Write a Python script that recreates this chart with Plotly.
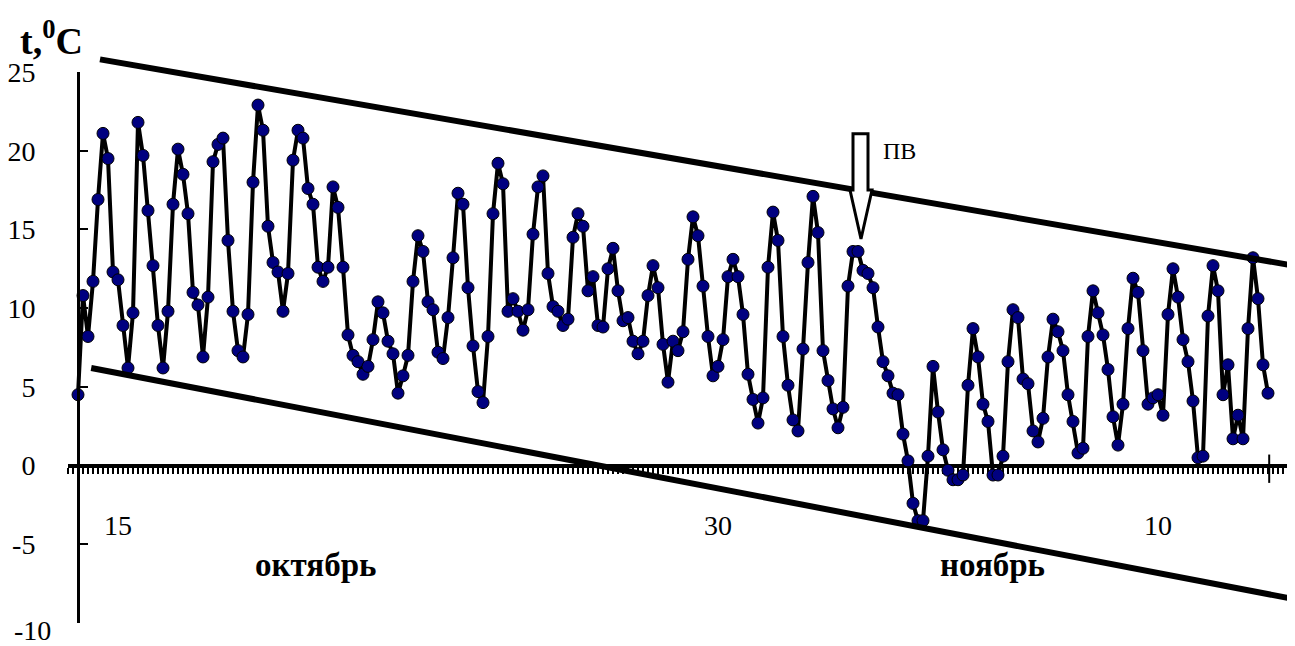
import plotly.graph_objects as go

# ---- data (3-hourly air temperature, °C) ----
start_day = 14.0          # October 14 = day 14, November 1 = day 32
step_day = 1.0 / 8.0      # 8 observations per day

temps_oct = [
    4.5, 10.8, 8.2, 11.7, 16.9, 21.1, 19.5, 12.3, 11.8, 8.9, 6.2, 9.7,
    21.8, 19.7, 16.2, 12.7, 8.9, 6.2, 9.8, 16.6, 20.1, 18.5, 16.0, 11.0,
    10.2, 6.9, 10.7, 19.3, 20.4, 20.8, 14.3, 9.8, 7.3, 6.9, 9.6, 18.0,
    22.9, 21.3, 15.2, 12.9, 12.3, 9.8, 12.2, 19.4, 21.3, 20.8, 17.6, 16.6,
    12.6, 11.7, 12.6, 17.7, 16.4, 12.6, 8.3, 7.0, 6.6, 5.8, 6.3, 8.0,
    10.4, 9.7, 7.9, 7.1, 4.6, 5.7, 7.0, 11.7, 14.6, 13.6, 10.4, 9.9,
    7.2, 6.8, 9.4, 13.2, 17.3, 16.6, 11.3, 7.6, 4.7, 4.0, 8.2, 16.0,
    19.2, 17.9, 9.8, 10.6, 9.8, 8.6, 9.9, 14.7, 17.7, 18.4, 12.2, 10.1,
    9.8, 8.9, 9.3, 14.5, 16.0, 15.2, 11.1, 12.0, 8.9, 8.8, 12.5, 13.8,
    11.1, 9.2, 9.4, 7.9, 7.1, 7.9, 10.8, 12.7, 11.3, 7.7, 5.3, 7.9,
    7.3, 8.5, 13.1, 15.8, 14.6, 11.4, 8.2, 5.7, 6.3, 8.0, 12.0, 13.1,
    12.0, 9.6, 5.8, 4.2, 2.7, 4.3, 12.6, 16.1, 14.3, 8.2, 5.1, 2.9,
]
temps_nov = [
    2.2, 7.4, 12.9, 17.1, 14.8, 7.3, 5.4, 3.6, 2.4, 3.7, 11.4, 13.6,
    13.6, 12.4, 12.2, 11.3, 8.8, 6.6, 5.7, 4.6, 4.5, 2.0, 0.3, -2.4,
    -3.5, -3.5, 0.6, 6.3, 3.4, 1.0, -0.3, -0.9, -0.9, -0.6, 5.1, 8.7,
    6.9, 3.9, 2.8, -0.6, -0.6, 0.6, 6.6, 9.9, 9.4, 5.5, 5.2, 2.2,
    1.5, 3.0, 6.9, 9.3, 8.5, 7.3, 4.5, 2.8, 0.8, 1.1, 8.2, 11.1,
    9.7, 8.3, 6.1, 3.1, 1.3, 3.9, 8.7, 11.9, 11.0, 7.3, 3.9, 4.3,
    4.5, 3.2, 9.6, 12.5, 10.7, 8.0, 6.6, 4.1, 0.5, 0.6, 9.5, 12.7,
    11.1, 4.5, 6.4, 1.7, 3.2, 1.7, 8.7, 13.2, 10.6, 6.4, 4.6,
]

# envelope (trend) lines: [start, end]
upper_days = [14.55, 44.3]
upper_vals = [25.8, 12.74]
lower_days = [14.33, 44.25]
lower_vals = [6.2, -8.41]

# axis ticks
x_tick_days = [15, 30, 41]
x_tick_text = ["15", "30", "10"]
y_tick_vals = [-10, -5, 0, 5, 10, 15, 20, 25]
y_tick_text = ["-10", "-5", "0", "5", "10", "15", "20", "25"]

month_names = ["октябрь", "ноябрь"]
month_days = [19.93, 36.85]

temps = temps_oct + temps_nov
days = [start_day + i * step_day for i in range(len(temps))]

SERIF = "Liberation Serif, Times New Roman, serif"

X_RANGE = [13.75, 44.3]
Y_RANGE = [-10, 25]
# the main axes occupy the lower part of a taller drawing area; a hidden
# twin y-axis with the same scale lets the upper envelope line run above 25
FIG_W, FIG_H = 1287, 638
M_L, M_R, M_T, M_B = 60, 5, 48, 23
plot_h = FIG_H - M_T - M_B
dom_top = 551.0 / plot_h
y2_top = Y_RANGE[0] + (Y_RANGE[1] - Y_RANGE[0]) / dom_top

fig = go.Figure()

fig.add_trace(go.Scatter(
    x=days, y=temps, mode="lines+markers",
    line=dict(color="black", width=4),
    marker=dict(symbol="circle", size=12, color="#000080",
                line=dict(color="black", width=1)),
))
fig.add_trace(go.Scatter(x=upper_days, y=upper_vals, mode="lines", xaxis="x2", yaxis="y2",
                         line=dict(color="black", width=6), hoverinfo="skip"))
fig.add_trace(go.Scatter(x=lower_days, y=lower_vals, mode="lines", xaxis="x2", yaxis="y2",
                         line=dict(color="black", width=6), hoverinfo="skip"))

# block arrow marking "ПВ"
arrow_path = ("M 33.375,21.08 L 33.75,21.08 L 33.75,17.5 L 33.85,17.5 "
              "L 33.575,14.39 L 33.3,17.5 L 33.375,17.5 Z")
fig.add_shape(type="path", path=arrow_path, xref="x", yref="y",
              line=dict(color="black", width=3), fillcolor="white", layer="above")
# end tick of time axis
fig.add_shape(type="line", x0=43.78, x1=43.78, y0=0.7, y1=-1.1, xref="x", yref="y",
              line=dict(color="black", width=2))

fig.add_annotation(text="ПВ", x=34.53, y=20.0, xref="x", yref="y", showarrow=False,
                   font=dict(family=SERIF, size=24, color="black"))
for name, d in zip(month_names, month_days):
    fig.add_annotation(text="<b>%s</b>" % name, x=d, y=-6.3, xref="x", yref="y",
                       showarrow=False, font=dict(family=SERIF, size=33, color="black"))
fig.add_annotation(text="<b>t,<sup>0</sup>C</b>", x=-0.0409, y=1.0317, xref="paper",
                   yref="paper", xanchor="left", yanchor="middle", showarrow=False,
                   font=dict(family=SERIF, size=38, color="black"))
# lowest y label sits a little lower/right in the original
fig.add_annotation(text=y_tick_text[0], x=-0.0123, y=-0.0141, xref="paper", yref="paper",
                   xanchor="right", yanchor="middle", showarrow=False,
                   font=dict(family=SERIF, size=28, color="black"))
axis_tick_text = [""] + y_tick_text[1:]

fig.update_layout(
    width=FIG_W, height=FIG_H,
    margin=dict(l=M_L, r=M_R, t=M_T, b=M_B, autoexpand=False),
    plot_bgcolor="rgba(0,0,0,0)", paper_bgcolor="white",
    showlegend=False,
    xaxis=dict(
        range=X_RANGE, anchor="free", position=dom_top * 10 / 35,
        automargin=False,
        showline=True, linecolor="black", linewidth=4, layer="below traces",
        tickmode="array", tickvals=x_tick_days, ticktext=x_tick_text,
        ticks="outside", ticklen=6, tickwidth=1.5, tickcolor="black",
        minor=dict(ticks="outside", tick0=start_day, dtick=step_day, ticklen=6,
                   tickwidth=1.5, tickcolor="black", showgrid=False),
        tickfont=dict(family=SERIF, size=28, color="black"),
        ticklabelstandoff=28,
        showgrid=False, zeroline=False,
    ),
    yaxis=dict(
        range=Y_RANGE, domain=[0, dom_top], anchor="free", position=10 / 1222,
        automargin=False,
        showline=True, linecolor="black", linewidth=3,
        tickmode="array", tickvals=y_tick_vals, ticktext=axis_tick_text,
        ticks="inside", ticklen=8, tickwidth=2, tickcolor="black",
        tickfont=dict(family=SERIF, size=28, color="black"),
        ticklabelstandoff=36,
        showgrid=False, zeroline=False,
    ),
    xaxis2=dict(range=X_RANGE, anchor="y2", visible=False, automargin=False),
    yaxis2=dict(range=[Y_RANGE[0], y2_top], domain=[0, 1], anchor="x2",
                visible=False, automargin=False),
)

fig.write_html("out.html")
